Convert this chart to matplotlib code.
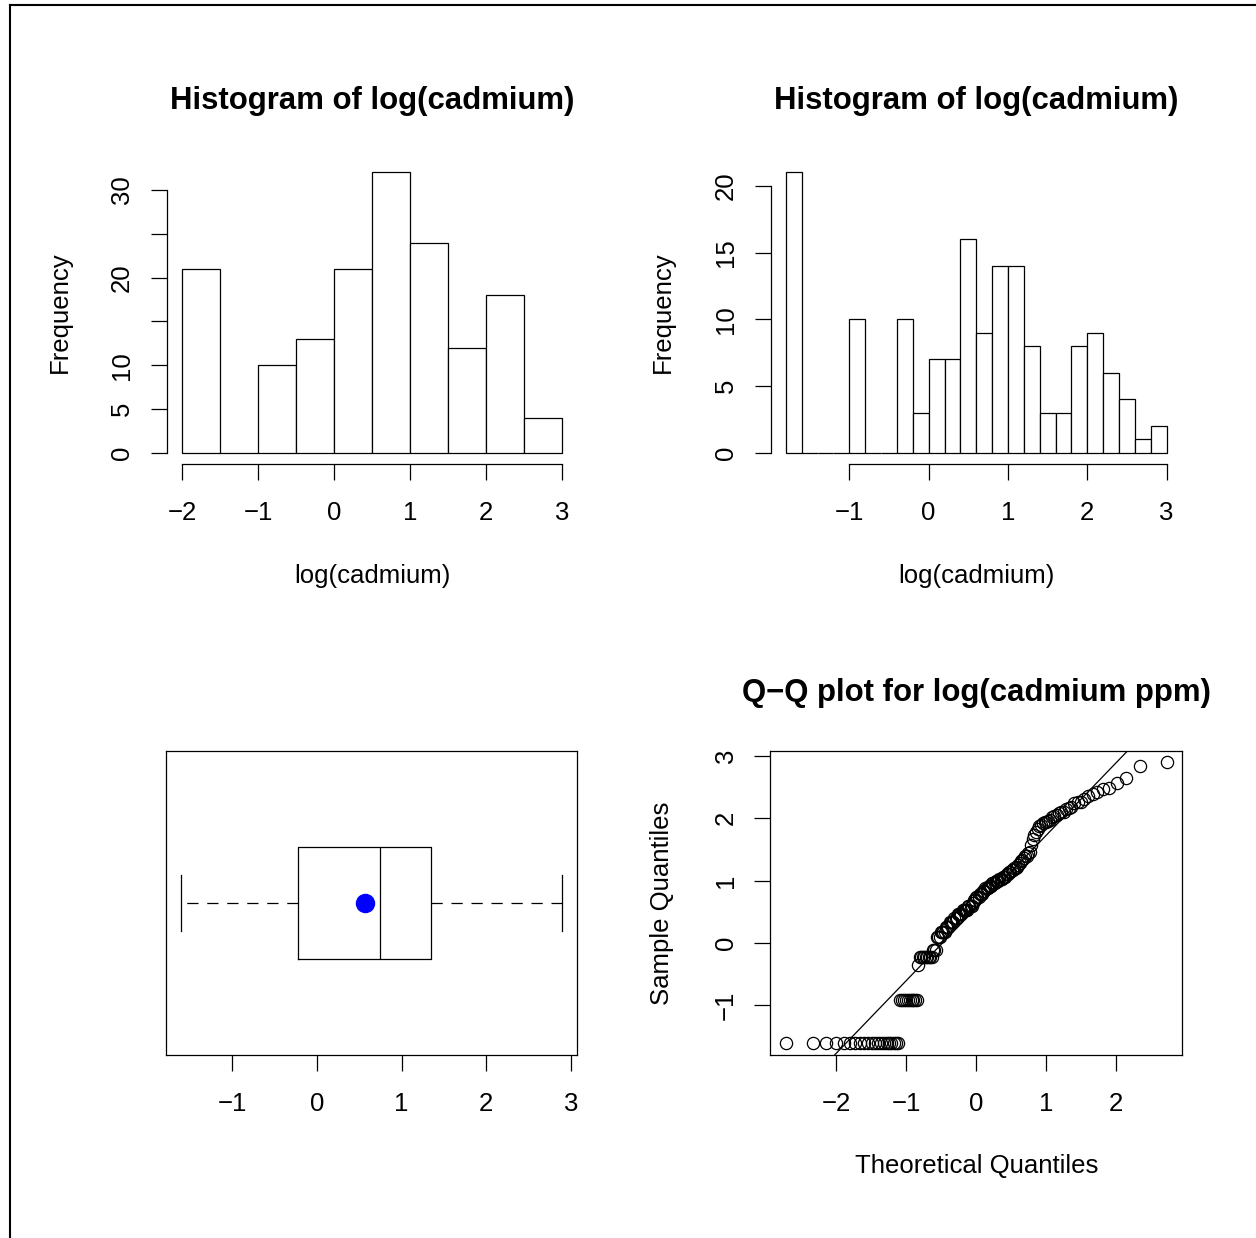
import statistics
import numpy as np
import matplotlib
matplotlib.use('Agg')
import matplotlib.pyplot as plt
from matplotlib.lines import Line2D

plt.rcParams['font.family'] = ['Liberation Sans', 'DejaVu Sans']
plt.rcParams['axes.unicode_minus'] = True

# cadmium (ppm), read back off the histograms and the Q-Q plot
cd_values = [0.2, 0.4, 0.7, 0.8, 0.9, 1.1, 1.2, 1.3, 1.4, 1.5, 1.6, 1.7, 1.8,
             1.9, 2.0, 2.1, 2.2, 2.3, 2.4, 2.5, 2.6, 2.7, 2.8, 2.9, 3.0, 3.1,
             3.2, 3.3, 3.4, 3.5, 3.6, 3.7, 3.8, 3.9, 4.0, 4.2, 4.3, 4.8, 5.3,
             5.6, 5.9, 6.2, 6.5, 6.6, 6.8, 7.0, 7.1, 7.2, 7.5, 7.7, 7.8, 8.0,
             8.1, 8.2, 8.6, 8.7, 8.8, 9.4, 9.5, 9.6, 10.0, 10.5, 10.8, 11.2,
             11.7, 11.9, 12.9, 14.1, 17.0, 18.1]
cd_counts = [21, 10, 1, 9, 3, 3, 4, 3, 4, 3, 4, 5, 4,
             1, 2, 3, 3, 2, 3, 3, 3, 3, 3, 3, 2, 2,
             2, 2, 1, 1, 1, 1, 1, 1, 2, 1, 1, 1, 1,
             1, 1, 1, 1, 1, 1, 2, 1, 1, 1, 1, 1, 1,
             1, 1, 1, 1, 1, 1, 1, 1, 1, 1, 1, 1,
             1, 1, 1, 1, 1, 1]

breaks_coarse = [-2.0, -1.5, -1.0, -0.5, 0.0, 0.5, 1.0, 1.5, 2.0, 2.5, 3.0]
breaks_fine = [-1.8, -1.6, -1.4, -1.2, -1.0, -0.8, -0.6, -0.4, -0.2, 0.0, 0.2,
               0.4, 0.6, 0.8, 1.0, 1.2, 1.4, 1.6, 1.8, 2.0, 2.2, 2.4, 2.6, 2.8, 3.0]

logcd = np.log(np.repeat(cd_values, cd_counts))

W, H = 1256, 1238
LW = 0.9
FS = 18.5
fig = plt.figure(figsize=(W / 100, H / 100), dpi=100)


def add_ax(left, top, right, bottom):
    return fig.add_axes([left / W, 1 - bottom / H, (right - left) / W, (bottom - top) / H])


def r_pad(lo, hi):
    d = 0.04 * (hi - lo)
    return lo - d, hi + d


def style(ax, frame=False):
    for s in ax.spines.values():
        s.set_linewidth(LW)
    if not frame:
        ax.spines['top'].set_visible(False)
        ax.spines['right'].set_visible(False)
    ax.tick_params(length=11.5, width=LW, labelsize=FS, direction='out')
    ax.tick_params(axis='x', pad=15.5)
    ax.tick_params(axis='y', pad=12, labelrotation=90)
    for lab in ax.get_yticklabels():
        lab.set_va('center')


def hist_panel(ax, breaks, yticks, ylabels, xticks):
    n, _, _ = ax.hist(logcd, bins=breaks, facecolor='white', edgecolor='black', linewidth=LW)
    ax.set_xlim(*r_pad(breaks[0], breaks[-1]))
    ax.set_ylim(*r_pad(0, max(n)))
    ax.set_xticks(xticks)
    ax.set_yticks(yticks)
    ax.set_yticklabels(ylabels)
    style(ax)
    ax.spines['bottom'].set_bounds(xticks[0], xticks[-1])
    ax.spines['left'].set_bounds(yticks[0], yticks[-1])
    ax.set_xlabel('log(cadmium)', fontsize=FS, va='center')
    ax.xaxis.set_label_coords(0.5, -0.37)
    ax.set_ylabel('Frequency', fontsize=FS, va='center')
    ax.yaxis.set_label_coords(-0.261, 0.5)
    ax.set_title('Histogram of log(cadmium)', fontsize=22.4, fontweight='bold',
                 y=1.172, va='center')


# top left: coarse histogram
ax1 = add_ax(166.8, 161.2, 577.2, 464.0)
hist_panel(ax1, breaks_coarse, [0, 5, 10, 15, 20, 25, 30],
           ['0', '5', '10', '', '20', '', '30'], [-2, -1, 0, 1, 2, 3])

# top right: fine histogram
ax2 = add_ax(770.6, 161.2, 1181.9, 464.0)
hist_panel(ax2, breaks_fine, [0, 5, 10, 15, 20],
           ['0', '5', '10', '15', '20'], [-1, 0, 1, 2, 3])

# bottom left: boxplot with mean
ax3 = add_ax(165.7, 751.2, 577.3, 1054.6)
ax3.boxplot(logcd, orientation='horizontal', widths=0.4, positions=[1],
            boxprops=dict(color='black', linewidth=LW),
            medianprops=dict(color='black', linewidth=LW),
            whiskerprops=dict(color='black', linewidth=LW, linestyle=(0, (9, 7))),
            capprops=dict(color='black', linewidth=LW),
            flierprops=dict(marker='o', markerfacecolor='none', markeredgecolor='black'))
ax3.plot(np.mean(logcd), 1, 'o', color='blue', markersize=13)
ax3.set_xlim(*r_pad(logcd.min(), logcd.max()))
ax3.set_ylim(0.46, 1.54)
ax3.set_xticks([-1, 0, 1, 2, 3])
ax3.set_yticks([])
style(ax3, frame=True)

# bottom right: normal Q-Q plot
nd = statistics.NormalDist()
y_sorted = np.sort(logcd)
n_obs = len(y_sorted)
theo = np.array([nd.inv_cdf((i + 0.5) / n_obs) for i in range(n_obs)])
ax4 = add_ax(770.3, 751.0, 1182.3, 1054.7)
ax4.plot(theo, y_sorted, 'o', markerfacecolor='none', markeredgecolor='black',
         markersize=8.8, markeredgewidth=LW)
q1, q3 = np.quantile(logcd, [0.25, 0.75])
z1, z3 = nd.inv_cdf(0.25), nd.inv_cdf(0.75)
ax4.axline((z1, q1), (z3, q3), color='black', linewidth=LW)
ax4.set_xlim(*r_pad(theo.min(), theo.max()))
ax4.set_ylim(*r_pad(y_sorted.min(), y_sorted.max()))
ax4.set_xticks([-2, -1, 0, 1, 2])
ax4.set_yticks([-1, 0, 1, 2, 3])
style(ax4, frame=True)
ax4.set_xlabel('Theoretical Quantiles', fontsize=FS, va='center')
ax4.xaxis.set_label_coords(0.5, -0.366)
ax4.set_ylabel('Sample Quantiles', fontsize=FS, va='center')
ax4.yaxis.set_label_coords(-0.263, 0.5)
ax4.set_title('Q\u2212Q plot for log(cadmium ppm)', fontsize=22.4, fontweight='bold',
              y=1.165, va='center')

# partial frame around the device
fig.add_artist(Line2D([9.5 / W, 1], [1 - 5 / H, 1 - 5 / H], color='black', linewidth=1.5))
fig.add_artist(Line2D([9.5 / W, 9.5 / W], [0, 1 - 5 / H], color='black', linewidth=1.5))

fig.savefig('out.png', dpi=100, facecolor='white')
